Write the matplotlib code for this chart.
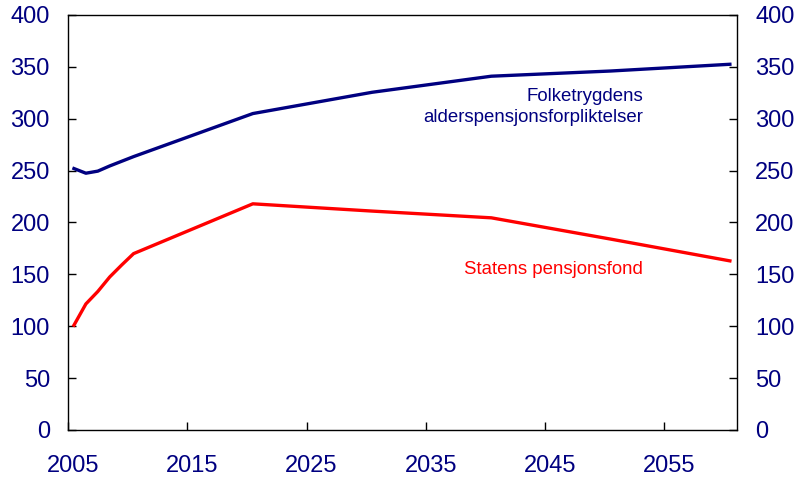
import numpy as np
import matplotlib.pyplot as plt
import matplotlib.transforms as mtransforms

plt.rcParams["font.family"] = ["Liberation Sans", "DejaVu Sans"]

# Data (billion NOK)
years = [2005, 2006, 2007, 2008, 2009, 2010, 2020, 2030, 2040, 2050, 2060]
folketrygd = [252, 247.5, 249.5, 254.5, 259, 263.5, 305, 325.5, 341, 346, 352.5]
pensjonsfond = [101, 121.5, 133.5, 147.5, 159, 170, 218, 211, 204.5, 184, 163]

xticks = [2005, 2015, 2025, 2035, 2045, 2055]
yticks = [0, 50, 100, 150, 200, 250, 300, 350, 400]

navy = "#000080"
red = "#FF0000"

fig = plt.figure(figsize=(7.98, 4.82), dpi=100)
ax = fig.add_axes([0.0852, 0.1079, 0.8384, 0.861])

# values are plotted at mid-year
x = np.array(years) + 0.5
ax.plot(x, folketrygd, color=navy, linewidth=2.4, solid_joinstyle="round")
ax.plot(x, pensjonsfond, color=red, linewidth=2.4, solid_joinstyle="round")

ax.set_xlim(2005, 2061.1)
ax.set_ylim(0, 400)
ax.set_xticks(xticks)
ax.set_xticklabels([str(t) for t in xticks])
ax.set_yticks(yticks)

for side in ["top", "left", "right", "bottom"]:
    ax.spines[side].set_linewidth(1.0)
    ax.spines[side].set_color("black")

ax.tick_params(axis="x", direction="in", length=5.5, width=1, pad=18,
               labelsize=17, labelcolor=navy, color="black")
ax.tick_params(axis="y", direction="in", length=5.5, width=1, pad=13,
               labelsize=17, labelcolor=navy, color="black",
               right=True, labelright=True)
ax.tick_params(axis="x", which="both", top=False)

# x tick labels sit a little right of their ticks in the original
offset = mtransforms.ScaledTranslation(5 / 100, 0, fig.dpi_scale_trans)
for lab in ax.get_xticklabels():
    lab.set_transform(lab.get_transform() + offset)

ax.text(2053.2, 311.5, "Folketrygdens\nalderspensjonsforpliktelser", color=navy,
        fontsize=13.4, ha="right", va="center", linespacing=1.35)
ax.text(2053.2, 154.5, "Statens pensjonsfond", color=red,
        fontsize=13.4, ha="right", va="center")

plt.savefig("out.png", dpi=100)
